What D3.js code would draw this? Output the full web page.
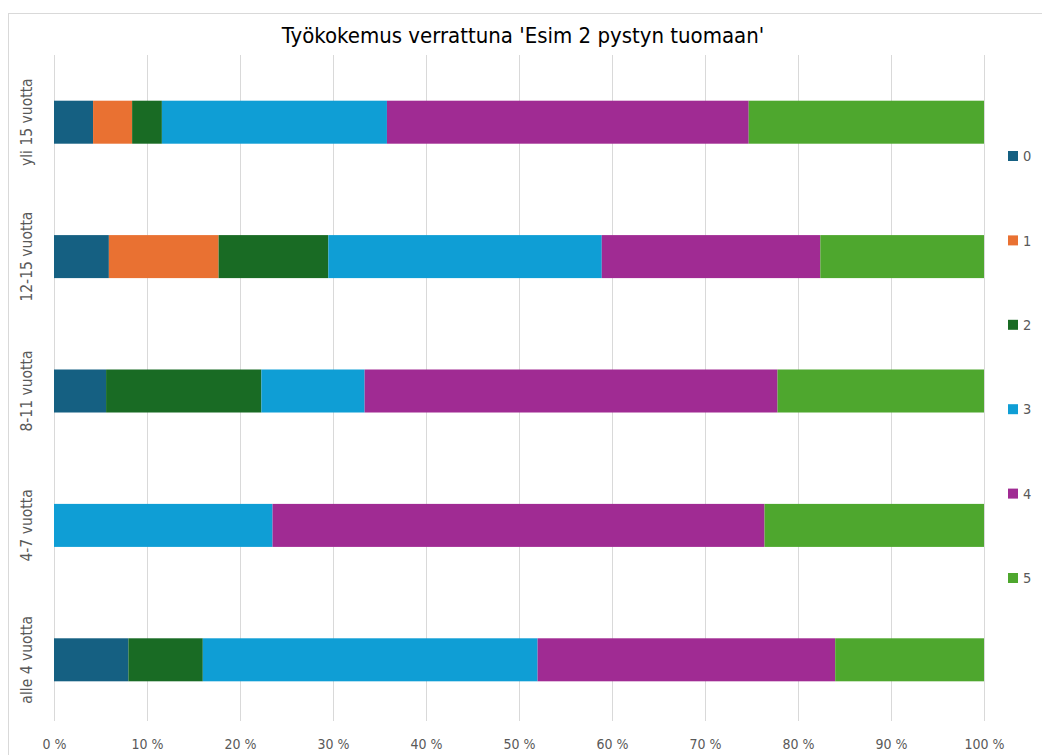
<!DOCTYPE html>
<html>
<head>
<meta charset="utf-8">
<script src="https://cdn.jsdelivr.net/npm/d3@7"></script>
<style>
  body { margin: 0; background: #fff; }
  text { font-family: "Liberation Sans Narrow", "DejaVu Sans Condensed", "Liberation Sans", sans-serif; }
</style>
</head>
<body>
<div id="chart"></div>
<script>
// data (percent of answers per experience group)
let categories = ["alle 4 vuotta", "4-7 vuotta", "8-11 vuotta", "12-15 vuotta", "yli 15 vuotta"];
let seriesNames = ["0", "1", "2", "3", "4", "5"];
let s0 = [8, 0, 5.6, 5.9, 4.2];
let s1 = [0, 0, 0, 11.8, 4.2];
let s2 = [8, 0, 16.7, 11.8, 3.2];
let s3 = [36, 23.5, 11.1, 29.4, 24.2];
let s4 = [32, 52.9, 44.4, 23.5, 38.9];
let s5 = [16, 23.6, 22.2, 17.6, 25.3];
let ticks = [0, 10, 20, 30, 40, 50, 60, 70, 80, 90, 100];
let colors = ["#156082", "#E97132", "#196B24", "#0F9ED5", "#A02B93", "#4EA72E"];

let width = 1042,
    height = 755;
let margin = {top: 55, left: 54, right: 58, bottom: 28};

let allSeries = [s0, s1, s2, s3, s4, s5];
let rows = categories.map((c, i) => {
    let r = {cat: c};
    seriesNames.forEach((s, j) => r[s] = allSeries[j][i]);
    return r;
});

let svg = d3.select('#chart')
    .append('svg')
    .attr('width', width)
    .attr('height', height);

//chart frame
svg.append("rect")
    .attr("x", 8.5).attr("y", 13.5)
    .attr("width", width + 20).attr("height", height + 20)
    .attr("fill", "none")
    .attr("stroke", "#d9d9d9");

let x = d3.scaleLinear()
    .domain([0, 100])
    .range([margin.left, width - margin.right]);
let y = d3.scaleBand()
    .domain(categories.slice().reverse())
    .range([margin.top, height - margin.bottom])
    .paddingInner(0.68)
    .paddingOuter(0.34);

//gridlines
svg.append("g")
    .selectAll("line")
    .data(ticks)
    .join("line")
    .attr("x1", d => Math.round(x(d)) + 0.5)
    .attr("x2", d => Math.round(x(d)) + 0.5)
    .attr("y1", margin.top)
    .attr("y2", height - margin.bottom - 6)
    .attr("stroke", "#d9d9d9")
    .attr("stroke-width", 1);

//x axis labels
let xAxis = d3.axisBottom(x)
    .tickValues(ticks)
    .tickSize(0)
    .tickPadding(0)
    .tickFormat(d => d + " %");
svg.append("g")
    .attr("transform", `translate(0, ${height - 10})`)
    .call(xAxis)
    .call(g => g.select(".domain").remove())
    .call(g => g.selectAll("text")
        .attr("fill", "#595959")
        .attr("font-size", 14)
        .attr("dy", "0.32em")
        .style("font-family", null));

//stacked bars
let stack = d3.stack().keys(seriesNames);
let layers = stack(rows);

svg.append("g")
    .selectAll("g")
    .data(layers)
    .join("g")
    .attr("fill", (d, i) => colors[i])
    .selectAll("rect")
    .data(d => d)
    .join("rect")
    .attr("x", d => x(d[0]))
    .attr("width", d => x(d[1]) - x(d[0]))
    .attr("y", d => y(d.data.cat))
    .attr("height", y.bandwidth());

//category labels (rotated)
svg.append("g")
    .selectAll("text")
    .data(categories)
    .join("text")
    .attr("transform", d => `translate(32, ${y(d) + y.bandwidth() / 2}) rotate(-90)`)
    .attr("text-anchor", "middle")
    .attr("fill", "#595959")
    .attr("font-size", 15.5)
    .text(d => d);

//legend
let ly = d3.scalePoint()
    .domain(seriesNames)
    .range([156, 578]);
let legend = svg.append("g")
    .selectAll("g")
    .data(seriesNames)
    .join("g")
    .attr("transform", d => `translate(1008, ${ly(d)})`);
legend.append("rect")
    .attr("x", 0).attr("y", -5)
    .attr("width", 10).attr("height", 10)
    .attr("fill", (d, i) => colors[i]);
legend.append("text")
    .attr("x", 15)
    .attr("dy", "0.36em")
    .attr("fill", "#595959")
    .attr("font-size", 14.5)
    .text(d => d);

//title
svg.append("text")
    .attr("x", 523)
    .attr("y", 43)
    .attr("text-anchor", "middle")
    .attr("fill", "#000")
    .attr("font-size", 22)
    .text("Työkokemus verrattuna 'Esim 2 pystyn tuomaan'");
</script>
</body>
</html>
